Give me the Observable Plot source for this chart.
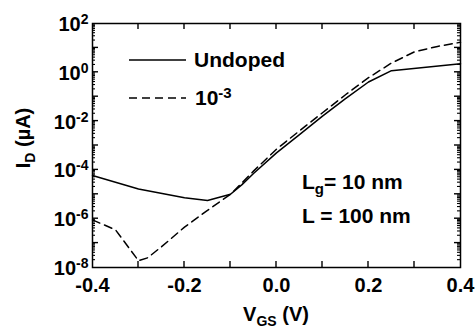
<!DOCTYPE html>
<html><head><meta charset="utf-8">
<script src="https://cdn.jsdelivr.net/npm/d3@7"></script>
<script src="https://cdn.jsdelivr.net/npm/@observablehq/plot@0.6"></script>
<style>
body{margin:0;background:#fff}
svg text{font-family:"Liberation Sans",Arial,Helvetica,sans-serif;font-weight:bold}
</style>
</head><body><div id="chart"></div>
<script>
// ---- data ----
const vgsUndoped = [-0.4, -0.3, -0.2, -0.15, -0.1, -0.075, -0.05, 0, 0.05, 0.1, 0.15, 0.2, 0.25, 0.4];
const idUndoped  = [5.9e-5, 1.66e-5, 7.2e-6, 5.6e-6, 1.0e-5, 2.5e-5, 7.1e-5, 5.0e-4, 2.8e-3, 1.6e-2, 8.3e-2, 0.40, 1.17, 2.24];
const vgsDoped = [-0.4, -0.375, -0.35, -0.3, -0.28, -0.25, -0.2, -0.15, -0.1, -0.05, 0, 0.05, 0.1, 0.15, 0.2, 0.25, 0.3, 0.35, 0.4];
const idDoped  = [8.9e-7, 5.6e-7, 3.5e-7, 1.9e-8, 2.5e-8, 7.1e-8, 4.5e-7, 2.2e-6, 1.0e-5, 8.9e-5, 7.1e-4, 4.0e-3, 2.2e-2, 0.12, 0.60, 2.4, 6.9, 11.5, 17];
const seriesNames = ["Undoped", "10", "-3"];
const xTickLabels = [-0.4, -0.2, 0, 0.2, 0.4];
const xTickMarks = [-0.3, -0.2, -0.1, 0, 0.1, 0.2, 0.3];
const yTickLabels = [1e-8, 1e-6, 1e-4, 1e-2, 1e0, 1e2];
const yDecades = [1e-7, 1e-6, 1e-5, 1e-4, 1e-3, 1e-2, 1e-1, 1e0, 1e1];
const annotation = [["L", "g", "= 10 nm"], ["L = 100 nm"]];
const axisTitleX = ["V", "GS", " (V)"];
const axisTitleY = ["I", "D", " (\u00b5A)"];

const yMinor = [];
for (let e = -8; e < 2; e++) for (let m = 2; m <= 9; m++) yMinor.push(m * Math.pow(10, e));

const undoped = vgsUndoped.map((v, k) => ({v, i: idUndoped[k]}));
const doped = vgsDoped.map((v, k) => ({v, i: idDoped[k]}));

const FONT = '"Liberation Sans", Arial, Helvetica, sans-serif';
const MAJ = 6, MIN = 3;

const plot = Plot.plot({
  width: 476, height: 328,
  marginTop: 23, marginRight: 16, marginBottom: 61, marginLeft: 92,
  style: {fontFamily: FONT, fontSize: "20px", fontWeight: "bold", background: "white", color: "black"},
  x: {domain: [-0.4, 0.4]},
  y: {type: "log", domain: [1e-8, 1e2]},
  marks: [
    // tick labels
    Plot.axisX(xTickLabels, {anchor: "bottom", tickSize: 0, tickPadding: 10, tickFormat: d => d.toFixed(1), label: null, fontSize: 20, fontWeight: "bold"}),
    Plot.axisY(yTickLabels, {anchor: "left", tickSize: 0, tickPadding: 4, dy: 1, tickFormat: d => String(Math.round(Math.log10(d))), label: null, fontSize: 20, fontWeight: "bold"}),
    // data
    Plot.line(undoped, {x: "v", y: "i", stroke: "black", strokeWidth: 1.5}),
    Plot.line(doped, {x: "v", y: "i", stroke: "black", strokeWidth: 1.5, strokeDasharray: "8,5"}),
    Plot.frame({stroke: "black", strokeWidth: 1.5})
  ]
});
document.getElementById("chart").appendChild(plot);

const svg = d3.select(plot);
const xs = plot.scale("x"), ys = plot.scale("y");
const X0 = xs.apply(-0.4), X1 = xs.apply(0.4), Y0 = ys.apply(1e-8), Y1 = ys.apply(1e2);

// inward ticks placed with Plot's own scales
const tg = svg.append("g").attr("stroke", "black").attr("fill", "none");
for (const v of xTickMarks) {
  const x = xs.apply(v);
  tg.append("line").attr("x1", x).attr("x2", x).attr("y1", Y0).attr("y2", Y0 - MAJ).attr("stroke-width", 1.4);
  tg.append("line").attr("x1", x).attr("x2", x).attr("y1", Y1).attr("y2", Y1 + MAJ).attr("stroke-width", 1.4);
}
for (const [vals, len, w] of [[yDecades, MAJ, 1.4], [yMinor, MIN, 1.1]]) {
  for (const v of vals) {
    const y = ys.apply(v);
    tg.append("line").attr("x1", X0).attr("x2", X0 + len).attr("y1", y).attr("y2", y).attr("stroke-width", w);
    tg.append("line").attr("x1", X1).attr("x2", X1 - len).attr("y1", y).attr("y2", y).attr("stroke-width", w);
  }
}

// rich text helper: parts = [[text, "n"|"sub"|"sup"], ...]
function rich(sel, parts, size) {
  let shift = 0;
  for (const [t, kind] of parts) {
    const ts = sel.append("tspan").text(t);
    const target = kind === "sub" ? 5 : kind === "sup" ? -7 : 0;
    ts.attr("dy", target - shift);
    shift = target;
    ts.attr("font-size", kind === "n" ? size : Math.round(size * 0.7));
  }
  return sel;
}

// superscript y tick labels
svg.selectAll('g[aria-label="y-axis tick label"] text').each(function () {
  const t = this.textContent;
  if (!t) return;
  const s = d3.select(this);
  s.text(null);
  rich(s, [["10", "n"], [t, "sup"]], 20);
});

// legend
const lg = svg.append("g").attr("fill", "black").attr("text-anchor", "start");
lg.append("line").attr("x1", 129).attr("x2", 186).attr("y1", 60).attr("y2", 60)
  .attr("stroke", "black").attr("stroke-width", 1.5);
lg.append("line").attr("x1", 129).attr("x2", 186).attr("y1", 98).attr("y2", 98)
  .attr("stroke", "black").attr("stroke-width", 1.5).attr("stroke-dasharray", "8,5");
lg.append("text").attr("x", 194).attr("y", 67).attr("font-size", 21).text(seriesNames[0]);
rich(lg.append("text").attr("x", 195).attr("y", 105), [[seriesNames[1], "n"], [seriesNames[2], "sup"]], 21);

// annotation
const an = svg.append("g").attr("text-anchor", "start");
rich(an.append("text").attr("x", 302).attr("y", 189), [[annotation[0][0], "n"], [annotation[0][1], "sub"], [annotation[0][2], "n"]], 21);
an.append("text").attr("x", 302).attr("y", 222.5).attr("font-size", 21).text(annotation[1][0]);

// axis titles
rich(svg.append("text").attr("x", 276).attr("y", 321).attr("text-anchor", "middle"),
  [[axisTitleX[0], "n"], [axisTitleX[1], "sub"], [axisTitleX[2], "n"]], 20);
rich(svg.append("text").attr("transform", "translate(30,138) rotate(-90)").attr("text-anchor", "middle"),
  [[axisTitleY[0], "n"], [axisTitleY[1], "sub"], [axisTitleY[2], "n"]], 20);
</script>
</body></html>
